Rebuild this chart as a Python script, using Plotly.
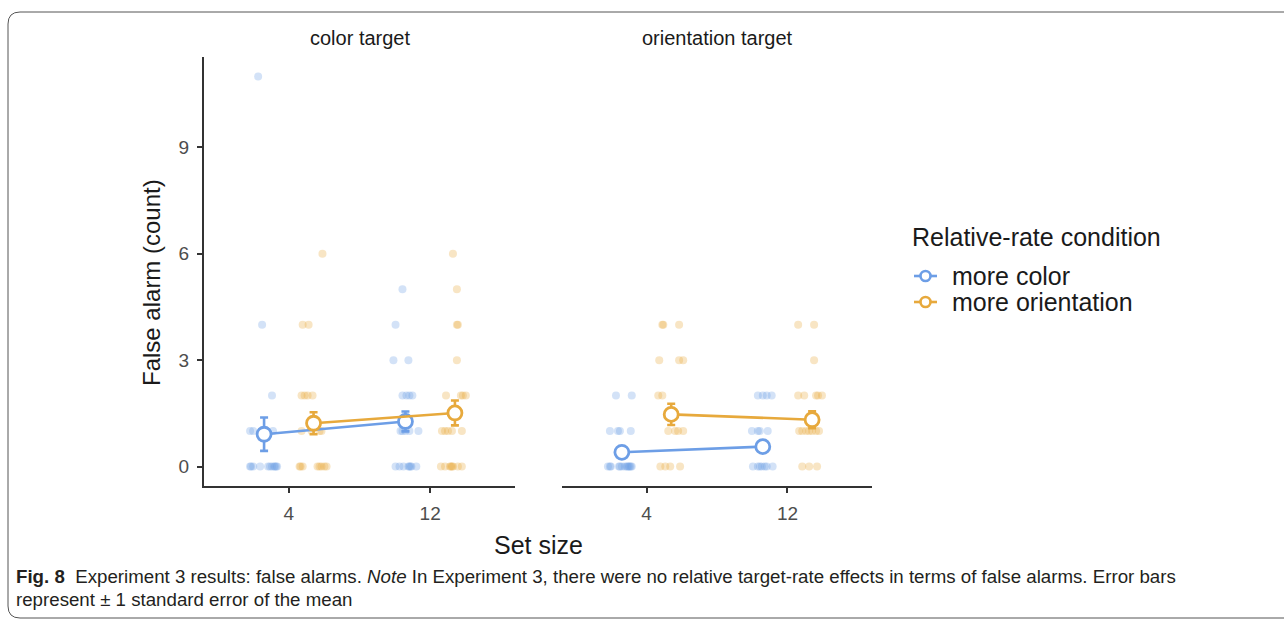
import plotly.graph_objects as go

# ---- data -------------------------------------------------------------
set_sizes = ["4", "12"]
panels = ["color target", "orientation target"]
conditions = ["more color", "more orientation"]
colors = {"more color": "#6d9ee6", "more orientation": "#e7a93c"}
dodge = {"more color": -0.175, "more orientation": 0.175}

# individual participants: false-alarm counts and horizontal jitter
color_target_more_color_4 = [11, 4, 2, 1, 1, 1, 0, 0, 0, 0, 0, 0, 0, 0, 0, 0, 0]
color_target_more_color_4_jit = [-0.042, -0.014, 0.056, -0.099, -0.077, 0.063, -0.099, -0.077,
                                  -0.028, 0.028, 0.056, 0.077, 0.092, -0.092, 0.042, 0.070, 0.085]
color_target_more_orient_4 = [6, 4, 4, 2, 2, 2, 2, 1, 1, 1, 1, 0, 0, 0, 0, 0, 0, 0, 0]
color_target_more_orient_4_jit = [0.063, -0.077, -0.035, -0.085, -0.063, -0.042, -0.007, -0.085,
                                  -0.014, 0.042, 0.056, -0.099, -0.077, 0.028, 0.056, 0.077,
                                  0.092, -0.092, 0.042]
color_target_more_color_12 = [5, 4, 3, 3, 2, 2, 2, 2, 1, 1, 1, 1, 1, 0, 0, 0, 0, 0, 0, 0, 0]
color_target_more_color_12_jit = [-0.021, -0.070, -0.085, 0.021, -0.021, 0.007, 0.028, 0.049,
                                  -0.035, -0.021, 0.028, 0.092, 0.0, -0.070, -0.042, -0.014,
                                  0.021, 0.028, 0.042, 0.077, 0.035]
color_target_more_orient_12 = [6, 5, 4, 4, 3, 2, 2, 2, 2, 1, 1, 1, 1, 1, 0, 0, 0, 0, 0, 0, 0, 0]
color_target_more_orient_12_jit = [-0.014, 0.014, 0.014, 0.021, 0.014, -0.063, 0.042, 0.056,
                                   0.077, -0.092, -0.070, -0.049, -0.021, 0.049, -0.099, -0.070,
                                   -0.035, -0.021, -0.014, 0.021, 0.049, -0.028]

orient_target_more_color_4 = [2, 2, 1, 1, 1, 1, 0, 0, 0, 0, 0, 0, 0, 0, 0, 0, 0, 0, 0]
orient_target_more_color_4_jit = [-0.042, 0.070, -0.085, -0.028, -0.014, 0.063, -0.099, -0.085,
                                  -0.021, 0.0, 0.035, 0.056, 0.070, -0.014, 0.049, -0.078,
                                  0.021, 0.042, 0.063]
orient_target_more_orient_4 = [4, 4, 4, 3, 3, 3, 2, 2, 1, 1, 1, 1, 0, 0, 0, 0]
orient_target_more_orient_4_jit = [-0.063, -0.056, 0.056, -0.085, 0.056, 0.085, -0.092, -0.063,
                                   -0.021, 0.028, 0.049, 0.085, -0.077, -0.042, -0.007, 0.063]
orient_target_more_color_12 = [2, 2, 2, 2, 1, 1, 1, 1, 0, 0, 0, 0, 0, 0, 0]
orient_target_more_color_12_jit = [-0.035, 0.0, 0.028, 0.063, -0.077, -0.035, -0.021, 0.035,
                                   -0.070, -0.035, -0.007, 0.014, 0.028, 0.070, -0.021]
orient_target_more_orient_12 = [4, 4, 3, 2, 2, 2, 2, 2, 1, 1, 1, 1, 1, 1, 1, 0, 0, 0]
orient_target_more_orient_12_jit = [-0.099, 0.014, 0.014, -0.099, -0.056, 0.028, 0.042, 0.070,
                                    -0.092, -0.070, -0.042, -0.021, 0.0, 0.028, 0.049, -0.070,
                                    -0.021, 0.035]

# condition means and standard errors (set size 4, 12)
mean_color_target = {"more color": [0.91, 1.27], "more orientation": [1.22, 1.51]}
se_color_target = {"more color": [0.47, 0.28], "more orientation": [0.31, 0.35]}
mean_orient_target = {"more color": [0.40, 0.56], "more orientation": [1.47, 1.32]}
se_orient_target = {"more color": [0.10, 0.11], "more orientation": [0.30, 0.24]}

points = {
    ("color target", "more color"): [(color_target_more_color_4, color_target_more_color_4_jit),
                                     (color_target_more_color_12, color_target_more_color_12_jit)],
    ("color target", "more orientation"): [(color_target_more_orient_4, color_target_more_orient_4_jit),
                                           (color_target_more_orient_12, color_target_more_orient_12_jit)],
    ("orientation target", "more color"): [(orient_target_more_color_4, orient_target_more_color_4_jit),
                                           (orient_target_more_color_12, orient_target_more_color_12_jit)],
    ("orientation target", "more orientation"): [(orient_target_more_orient_4, orient_target_more_orient_4_jit),
                                                 (orient_target_more_orient_12, orient_target_more_orient_12_jit)],
}
means = {"color target": mean_color_target, "orientation target": mean_orient_target}
ses = {"color target": se_color_target, "orientation target": se_orient_target}

# ---- figure -------------------------------------------------------------
W, H = 1284, 620
fig = go.Figure()
axis_ids = {"color target": ("x", "y"), "orientation target": ("x2", "y2")}

for panel in panels:
    xa, ya = axis_ids[panel]
    # jittered raw points
    for cond in conditions:
        xs, ys = [], []
        for i, (vals, jit) in enumerate(points[(panel, cond)]):
            for v, j in zip(vals, jit):
                xs.append(i + dodge[cond] + j)
                ys.append(v)
        fig.add_trace(go.Scatter(
            x=xs, y=ys, mode="markers", xaxis=xa, yaxis=ya, showlegend=False,
            marker=dict(size=8, color=colors[cond], opacity=0.3, line=dict(width=0)),
            hoverinfo="skip"))
    # means with SE bars
    for cond in conditions:
        fig.add_trace(go.Scatter(
            x=[i + dodge[cond] for i in range(len(set_sizes))],
            y=means[panel][cond], mode="lines+markers", xaxis=xa, yaxis=ya,
            showlegend=False,
            line=dict(color=colors[cond], width=2.6),
            marker=dict(size=14, color="white", line=dict(color=colors[cond], width=2.8)),
            error_y=dict(type="data", array=ses[panel][cond], color=colors[cond],
                         thickness=2.6, width=4)))


def px(x):
    return x / W


def py(y):
    return 1 - y / H


axis_style = dict(showgrid=False, zeroline=False, showline=True, linecolor="#333333",
                  linewidth=2, ticks="outside", ticklen=5, tickwidth=2, tickcolor="#333333",
                  tickfont=dict(family="Liberation Sans", size=19, color="#4d4d4d"),
                  ticklabelstandoff=4)

fig.update_layout(
    width=W, height=H, margin=dict(l=0, r=0, t=0, b=0),
    paper_bgcolor="white", plot_bgcolor="white",
    font=dict(family="Liberation Sans", color="#1a1a1a"),
    xaxis=dict(domain=[px(204), px(515)], range=[-0.6, 1.6], tickvals=[0, 1],
               ticktext=set_sizes, anchor="y", **axis_style),
    xaxis2=dict(domain=[px(562), px(872)], range=[-0.6, 1.6], tickvals=[0, 1],
                ticktext=set_sizes, anchor="y2", **axis_style),
    yaxis=dict(domain=[py(486), py(57)], range=[-0.55, 11.55], tickvals=[0, 3, 6, 9],
               anchor="x", **axis_style),
    yaxis2=dict(domain=[py(486), py(57)], range=[-0.55, 11.55], anchor="x2",
                showgrid=False, zeroline=False, showline=False, showticklabels=False,
                ticks=""),
)

ann = []
# facet titles
for panel, cx in zip(panels, [359.5, 717]):
    ann.append(dict(text=panel, x=px(cx), y=py(38), xref="paper", yref="paper",
                    showarrow=False, font=dict(size=20, color="#1a1a1a"),
                    xanchor="center", yanchor="middle"))
# axis titles
ann.append(dict(text="False alarm (count)", x=px(151), y=py(283), xref="paper", yref="paper",
                showarrow=False, textangle=-90, font=dict(size=24, color="#1a1a1a"),
                xanchor="center", yanchor="middle"))
ann.append(dict(text="Set size", x=px(538), y=py(545), xref="paper", yref="paper",
                showarrow=False, font=dict(size=25, color="#1a1a1a"),
                xanchor="center", yanchor="middle"))
# legend
ann.append(dict(text="Relative-rate condition", x=px(910), y=py(237), xref="paper",
                yref="paper", showarrow=False, font=dict(size=25, color="#1a1a1a"),
                xanchor="left", yanchor="middle"))
shapes = []
for cond, ly in zip(conditions, [276, 302]):
    ann.append(dict(text=cond, x=px(950), y=py(ly), xref="paper", yref="paper",
                    showarrow=False, font=dict(size=25, color="#1a1a1a"),
                    xanchor="left", yanchor="middle"))
    shapes.append(dict(type="line", xref="paper", yref="paper", x0=px(914), x1=px(937),
                       y0=py(ly), y1=py(ly), line=dict(color=colors[cond], width=2.6)))
    shapes.append(dict(type="circle", xref="paper", yref="paper", x0=px(920.5), x1=px(930.5),
                       y0=py(ly + 5), y1=py(ly - 5), fillcolor="white",
                       line=dict(color=colors[cond], width=2.6)))

# caption
cap_font = dict(family="Liberation Sans", size=18.7, color="#231f20")
ann.append(dict(text="<b>Fig. 8</b>  Experiment 3 results: false alarms. <i>Note</i> In Experiment 3, "
                     "there were no relative target-rate effects in terms of false alarms. Error bars",
                x=px(14), y=py(576), xref="paper", yref="paper", showarrow=False,
                font=cap_font, xanchor="left", yanchor="middle"))
ann.append(dict(text="represent ± 1 standard error of the mean",
                x=px(14), y=py(599), xref="paper", yref="paper", showarrow=False,
                font=cap_font, xanchor="left", yanchor="middle"))

# rounded frame around the figure
frame = (f"M {px(1300)},{py(12)} L {px(20)},{py(12)} Q {px(8)},{py(12)} {px(8)},{py(24)} "
         f"L {px(8)},{py(606)} Q {px(8)},{py(618)} {px(20)},{py(618)} L {px(1300)},{py(618)}")
shapes.append(dict(type="path", xref="paper", yref="paper", path=frame,
                   line=dict(color="#555555", width=1)))

fig.update_layout(annotations=ann, shapes=shapes)
fig.write_html("out.html")
